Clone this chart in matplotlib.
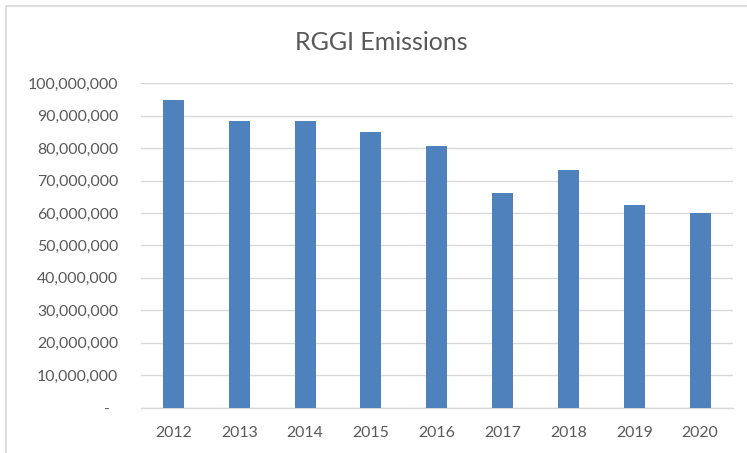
import matplotlib
matplotlib.use("Agg")
import matplotlib.pyplot as plt
from matplotlib.ticker import FuncFormatter
from matplotlib.lines import Line2D

years = ["2012", "2013", "2014", "2015", "2016", "2017", "2018", "2019", "2020"]
emissions = [94.8e6, 88.4e6, 88.4e6, 85.0e6, 80.7e6, 66.2e6, 73.3e6, 62.5e6, 60.0e6]
y_ticks = [i * 10e6 for i in range(11)]

plt.rcParams['font.family'] = ['Lato', 'DejaVu Sans']
W, H = 747, 453
fig = plt.figure(figsize=(W / 100, H / 100), dpi=100)
fig.patch.set_facecolor('white')

left, right = 140.5 / W, 733 / W
bottom, top = 1 - 407.5 / H, 1 - 83.3 / H
ax = fig.add_axes([left, bottom, right - left, top - bottom])

x = list(range(len(years)))
ax.bar(x, emissions, width=0.32, color='#4f81bd', zorder=3)
ax.set_xlim(-0.5, len(years) - 0.5)
ax.set_ylim(0, 100e6)
ax.set_yticks(y_ticks)
ax.yaxis.set_major_formatter(FuncFormatter(lambda v, p: '-  ' if v == 0 else f'{v:,.0f}'))
ax.set_xticks(x)
ax.set_xticklabels(years)
ax.grid(axis='y', color='#d9d9d9', linewidth=1, zorder=0)
for s in ['top', 'right', 'left']:
    ax.spines[s].set_visible(False)
ax.spines['bottom'].set_color('#d9d9d9')
ax.spines['bottom'].set_linewidth(1)
ax.tick_params(axis='both', length=0, colors='#595959', labelsize=11.4)
ax.tick_params(axis='y', pad=16)
ax.tick_params(axis='x', pad=13)

fig.text(381 / W, 1 - 42 / H, 'RGGI Emissions', ha='center', va='center',
         fontsize=18, color='#595959')

# chart border (top and left visible)
fig.add_artist(Line2D([6 / W, 1.0], [1 - 6 / H, 1 - 6 / H], transform=fig.transFigure,
                      color='#d9d9d9', linewidth=1.2))
fig.add_artist(Line2D([6 / W, 6 / W], [1 - 6 / H, 0], transform=fig.transFigure,
                      color='#d9d9d9', linewidth=1.2))

fig.savefig('out.png', dpi=100, facecolor='white')
